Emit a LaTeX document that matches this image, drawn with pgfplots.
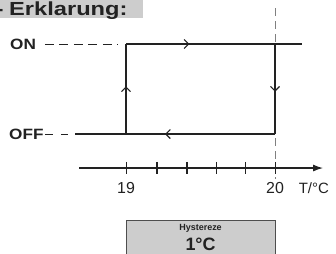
\documentclass[border=0pt]{standalone}
\usepackage{pgfplots}
\pgfplotsset{compat=1.18}
\usepackage{fontspec}
\setmainfont{Liberation Sans}
\usetikzlibrary{arrows.meta,decorations.markings}
\definecolor{ln}{HTML}{222222}
\definecolor{boxgray}{HTML}{CDCDCD}
\begin{document}
\begin{tikzpicture}[
  midarrow/.style={postaction={decorate},decoration={markings,mark=at position #1 with {\arrow{Straight Barb[length=4.5bp,width=9bp,line width=1.1bp]}}}}]
\begin{axis}[hide axis, scale only axis, x=149bp, y=90bp,
  xmin=18.154, xmax=20.409, ymin=-1.333, ymax=1.489, clip=false,
  /pgf/number format/assume math mode=true]
% title
\fill[boxgray] (axis cs:18.154,1.489) rectangle (axis cs:19.114,1.289);
\node[anchor=base west, font=\bfseries\fontsize{19}{19}\selectfont, text=ln, inner sep=0pt, xscale=1.25] at (axis cs:18.214,1.319) {Erklarung:};
\node[anchor=base east, font=\bfseries\fontsize{19}{19}\selectfont, text=ln, inner sep=0pt] at (axis cs:18.178,1.319) {-};
% dashed helpers
\addplot[ln, line width=0.6bp, dash pattern=on 9bp off 5.5bp] coordinates {(18.456,1) (18.946,1)};
\addplot[ln, line width=0.6bp, dash pattern=on 8bp off 8bp] coordinates {(18.456,0) (18.61,0)};
\addplot[gray, line width=0.8bp, dash pattern=on 8bp off 5bp] coordinates {(20,1.40) (20,-0.50)};
% hysteresis loop
\addplot[ln, line width=1.2bp, midarrow=0.55] coordinates {(20,0) (18.657,0)};
\addplot[ln, line width=1.2bp, midarrow=0.53] coordinates {(19,0) (19,1)};
\addplot[ln, line width=1.2bp, midarrow=0.36] coordinates {(19,1) (20.181,1)};
\addplot[ln, line width=1.2bp, midarrow=0.53] coordinates {(20,1) (20,0)};
% T axis
\addplot[ln, line width=1.2bp, -{Latex[length=10bp,width=7bp]}] coordinates {(18.685,-0.378) (20.322,-0.378)};
\addplot[ln, line width=1.1bp] coordinates {(19,-0.311) (19,-0.445)};
\addplot[ln, line width=1.1bp] coordinates {(19.208,-0.311) (19.208,-0.445)};
\addplot[ln, line width=1.1bp] coordinates {(19.409,-0.311) (19.409,-0.445)};
\addplot[ln, line width=1.1bp] coordinates {(19.604,-0.311) (19.604,-0.445)};
\addplot[ln, line width=1.1bp] coordinates {(19.799,-0.311) (19.799,-0.445)};
\addplot[ln, line width=1.1bp] coordinates {(20,-0.311) (20,-0.445)};
% labels
\node[anchor=west, font=\bfseries\fontsize{15}{15}\selectfont, text=ln, inner sep=0pt, xscale=1.15] at (axis cs:18.221,1) {ON};
\node[anchor=west, font=\bfseries\fontsize{15}{15}\selectfont, text=ln, inner sep=0pt, xscale=1.15] at (axis cs:18.214,0) {OFF};
\node[font=\fontsize{16}{16}\selectfont, text=ln] at (axis cs:19,-0.60) {19};
\node[font=\fontsize{16}{16}\selectfont, text=ln] at (axis cs:20,-0.60) {20};
\node[font=\fontsize{15}{15}\selectfont, text=ln] at (axis cs:20.26,-0.60) {T/°C};
% box
\filldraw[fill=boxgray, draw=ln!80, line width=0.8bp] (axis cs:19,-0.956) rectangle (axis cs:20,-1.45);
\node[font=\bfseries\fontsize{9}{9}\selectfont, text=ln] at (axis cs:19.5,-1.045) {Hystereze};
\node[font=\bfseries\fontsize{18}{18}\selectfont, text=ln] at (axis cs:19.5,-1.23) {1°C};
\end{axis}
\pgfresetboundingbox
\useasboundingbox (current axis.south west) rectangle (current axis.north east);
\end{tikzpicture}
\end{document}
